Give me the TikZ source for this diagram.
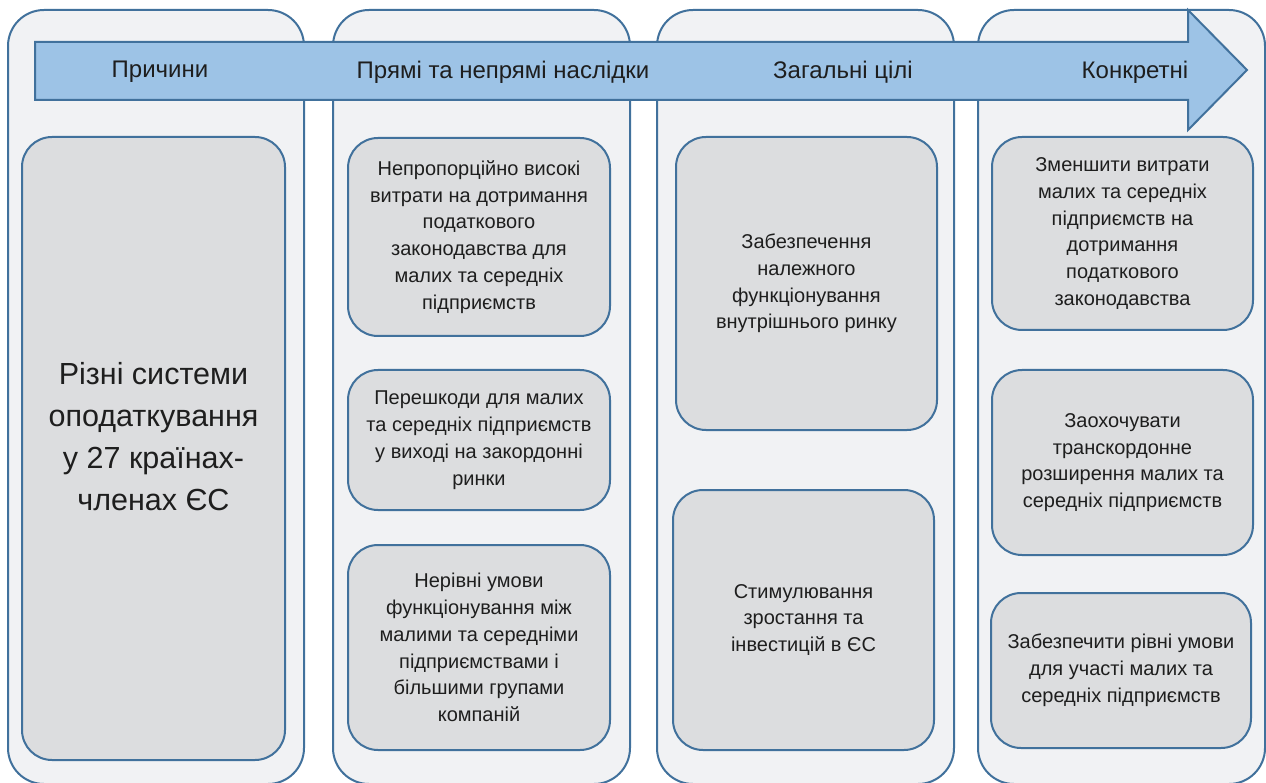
\documentclass[tikz,border=0pt]{standalone}
\usepackage{fontspec}
\setmainfont{Liberation Sans}
\definecolor{edgeblue}{HTML}{41719C}
\definecolor{colfill}{HTML}{F1F2F4}
\definecolor{boxfill}{HTML}{DCDDDF}
\definecolor{arrowfill}{HTML}{9DC3E6}
\definecolor{txt}{HTML}{1E1E1E}
\begin{document}
\begin{tikzpicture}[x=1pt,y=-1pt,
	column/.style={draw=edgeblue, line width=2pt, fill=colfill, rounded corners=36pt, minimum width=#1, minimum height=774pt, inner sep=0},
	card/.style={draw=edgeblue, line width=2pt, fill=boxfill, rounded corners=30pt, align=center, text=txt, inner sep=0, font=\fontsize{20}{26.8}\selectfont},
	head/.style={text=txt, font=\fontsize{24}{28}\selectfont}]

	\useasboundingbox (0,0) rectangle (1266,783);

	% columns
	\node [column=296pt] (c1) at (156,397) {};
	\node [column=297pt] (c2) at (481.5,397) {};
	\node [column=297pt] (c3) at (805.5,397) {};
	\node [column=287pt] (c4) at (1121.5,397) {};

	% arrow
	\draw [draw=edgeblue, line width=2pt, fill=arrowfill, line join=miter]
		(35,42) -- (1188,42) -- (1188,10) -- (1247,70) -- (1188,130) -- (1188,100) -- (35,100) -- cycle;
	\node [head] (h1) at (160,72) {Причини};
	\node [head] (h2) at (503,72) {Прямі та непрямі наслідки};
	\node [head] (h3) at (843,72) {Загальні цілі};
	\node [head] (h4) at (1135,72) {Конкретні};

	% causes
	\node [card, minimum width=263pt, minimum height=623pt] (cause) at (153.5,448.5) {};
	\node [align=center, text=txt, font=\fontsize{30.5}{42}\selectfont] (causetext) at (153.5,437)
		{Різні системи\\оподаткування\\у 27 країнах-\\членах ЄС};

	% effects
	\node [card, minimum width=262pt, minimum height=198pt] (e1) at (479,237)
		{Непропорційно високі\\витрати на дотримання\\податкового\\законодавства для\\малих та середніх\\підприємств};
	\node [card, minimum width=262pt, minimum height=140pt] (e2) at (479,440)
		{Перешкоди для малих\\та середніх підприємств\\у виході на закордонні\\ринки};
	\node [card, minimum width=262pt, minimum height=205pt] (e3) at (479,647.5)
		{Нерівні умови\\функціонування між\\малими та середніми\\підприємствами і\\більшими групами\\компаній};

	% general goals
	\node [card, minimum width=261pt, minimum height=293pt] (g1) at (806.5,283.5)
		{Забезпечення\\належного\\функціонування\\внутрішнього ринку};
	\node [card, minimum width=261pt, minimum height=260pt] (g2) at (803.5,620)
		{Стимулювання\\зростання та\\інвестицій в ЄС};

	% specific goals
	\node [card, minimum width=261pt, minimum height=193pt] (s1) at (1122.5,233.5)
		{Зменшити витрати\\малих та середніх\\підприємств на\\дотримання\\податкового\\законодавства};
	\node [card, minimum width=261pt, minimum height=185pt] (s2) at (1122.5,462.5)
		{Заохочувати\\транскордонне\\розширення малих та\\середніх підприємств};
	\node [card, minimum width=260pt, minimum height=155pt] (s3) at (1121,670.5)
		{Забезпечити рівні умови\\для участі малих та\\середніх підприємств};
\end{tikzpicture}
\end{document}
